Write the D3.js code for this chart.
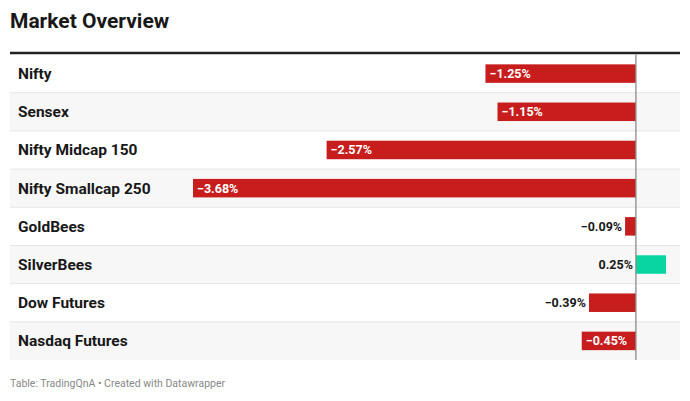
<!DOCTYPE html>
<html>
<head>
<meta charset="utf-8">
<script src="https://cdn.jsdelivr.net/npm/d3@7"></script>
<style>
  body { margin: 0; background: #fff; }
  svg { display: block; font-family: Roboto, "Noto Sans", sans-serif; }
</style>
</head>
<body>
<svg id="chart"></svg>
<script>
// dados
let categorias = ['Nifty', 'Sensex', 'Nifty Midcap 150', 'Nifty Smallcap 250', 'GoldBees', 'SilverBees', 'Dow Futures', 'Nasdaq Futures'];
let valores = [-1.25, -1.15, -2.57, -3.68, -0.09, 0.25, -0.39, -0.45];
let rotuloDentro = [true, true, true, true, false, false, false, true];

let largura = 690, altura = 401;
let svg = d3.select('#chart').attr('width', largura).attr('height', altura);

svg.append('text')
  .attr('x', 10).attr('y', 28)
  .attr('font-size', 21).attr('font-weight', 700).attr('fill', '#181818')
  .text('Market Overview');

let topo = 54.5, fim = 360;

let fnY = d3.scaleBand()
  .domain(categorias)
  .range([topo, fim]);

let fnX = d3.scaleLinear()
  .domain([d3.min(valores), d3.max(valores)])
  .range([193, 666]);

let dados = categorias.map((c, i) => ({chave: c, valor: valores[i], dentro: rotuloDentro[i], i: i}));

// fundos das linhas
svg.selectAll('.fundo')
  .data(dados)
  .enter()
  .append('rect')
  .attr('x', 10)
  .attr('y', d => fnY(d.chave))
  .attr('width', 670)
  .attr('height', fnY.bandwidth())
  .attr('fill', d => d.i % 2 ? '#f7f7f7' : '#ffffff');

// separadores
svg.selectAll('.sep')
  .data(dados.slice(1))
  .enter()
  .append('line')
  .attr('x1', 10).attr('x2', 680)
  .attr('y1', d => fnY(d.chave)).attr('y2', d => fnY(d.chave))
  .attr('stroke', '#e6e6e6').attr('stroke-width', 1);

svg.append('line')
  .attr('x1', 10).attr('x2', 680)
  .attr('y1', 53).attr('y2', 53)
  .attr('stroke', '#222').attr('stroke-width', 2.5);

svg.selectAll('.nome')
  .data(dados)
  .enter()
  .append('text')
  .attr('x', 18)
  .attr('y', d => fnY(d.chave) + fnY.bandwidth() / 2)
  .attr('dy', '0.35em')
  .attr('font-size', 15.5).attr('font-weight', 700).attr('fill', '#181818')
  .text(d => d.chave);

let alturaBarra = 18.5;

svg.selectAll('.barra')
  .data(dados)
  .enter()
  .append('rect')
  .attr('x', d => fnX(Math.min(0, d.valor)))
  .attr('y', d => fnY(d.chave) + (fnY.bandwidth() - alturaBarra) / 2)
  .attr('width', d => Math.abs(fnX(d.valor) - fnX(0)))
  .attr('height', alturaBarra)
  .attr('fill', d => d.valor < 0 ? '#c71e1d' : '#09d5a3');

svg.append('line')
  .attr('x1', fnX(0)).attr('x2', fnX(0))
  .attr('y1', topo).attr('y2', fim)
  .attr('stroke', '#8a8a8a').attr('stroke-width', 1.3);

let fmt = v => (v < 0 ? '\u2212' : '') + Math.abs(v).toFixed(2) + '%';

svg.selectAll('.rotulo')
  .data(dados)
  .enter()
  .append('text')
  .attr('x', d => d.dentro ? fnX(d.valor) + 4 : fnX(Math.min(0, d.valor)) - 3)
  .attr('y', d => fnY(d.chave) + fnY.bandwidth() / 2)
  .attr('dy', '0.36em')
  .attr('text-anchor', d => d.dentro ? 'start' : 'end')
  .attr('font-size', 12.5).attr('font-weight', 700)
  .attr('fill', d => d.dentro ? '#ffffff' : '#181818')
  .text(d => fmt(d.valor));

svg.append('text')
  .attr('x', 10).attr('y', 387)
  .attr('font-size', 10.5).attr('fill', '#888')
  .text('Table: TradingQnA \u2022 Created with Datawrapper');
</script>
</body>
</html>
